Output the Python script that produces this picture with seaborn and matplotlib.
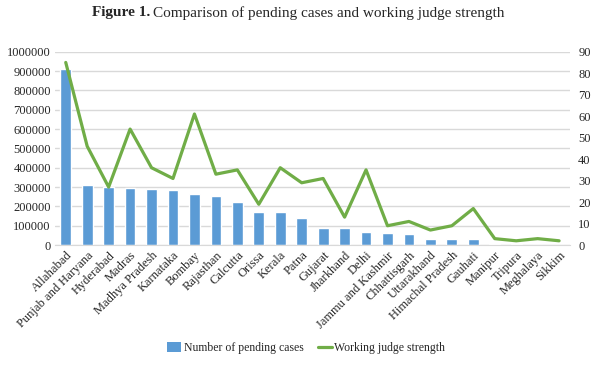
import numpy as np
import pandas as pd
import seaborn as sns
import matplotlib.pyplot as plt
from matplotlib.patches import Patch
from matplotlib.lines import Line2D
from matplotlib.ticker import StrMethodFormatter

courts = ['Allahabad', 'Punjab and Haryana', 'Hyderabad', 'Madras', 'Madhya Pradesh',
          'Karnataka', 'Bombay', 'Rajasthan', 'Calcutta', 'Orissa', 'Kerala', 'Patna',
          'Gujarat', 'Jharkhand', 'Delhi', 'Jammu and Kashmir', 'Chhattisgarh',
          'Uttarakhand', 'Himachal Pradesh', 'Gauhati', 'Manipur', 'Tripura',
          'Meghalaya', 'Sikkim']
pending = [910000, 310000, 298000, 297000, 290000, 283000, 264000, 253000, 221000,
           171000, 169000, 138000, 88000, 88000, 67000, 60000, 57000, 31000, 29000,
           29000, 4000, 4000, 1000, 500]
judges = [85, 46, 27, 54, 36, 31, 61, 33, 35, 19, 36, 29, 31, 13, 35, 9, 11, 7, 9, 17,
          3, 2, 3, 2]

df = pd.DataFrame({'court': courts, 'pending': pending, 'judges': judges})

sns.set_style('white')
plt.rcParams['font.family'] = ['Liberation Serif', 'DejaVu Serif']

bar_color = '#5B9BD5'
line_color = '#70AD47'

fig = plt.figure(figsize=(6, 3.68), dpi=100)
ax = fig.add_axes([0.0917, 0.334, 0.858, 0.5255])
sns.barplot(data=df, x='court', y='pending', color=bar_color, width=0.5,
            saturation=1, ax=ax)
ax.set_ylim(0, 1000000)
ax.set_yticks(np.arange(0, 1000001, 100000))
ax.yaxis.set_major_formatter(StrMethodFormatter('{x:.0f}'))
ax.yaxis.grid(True, color='#D9D9D9', linewidth=1)
ax.set_axisbelow(True)
ax.set_xlabel('')
ax.set_ylabel('')
ax.set_xlim(-0.5, len(courts) - 0.5)
ax.tick_params(axis='both', length=0, labelsize=9, pad=3)
plt.setp(ax.get_xticklabels(), rotation=45, ha='right', rotation_mode='anchor')
for s in ['top', 'right', 'left']:
    ax.spines[s].set_visible(False)
ax.spines['bottom'].set_color('#D9D9D9')

ax2 = ax.twinx()
sns.lineplot(data=df, x='court', y='judges', color=line_color, linewidth=2.3,
             sort=False, ax=ax2)
ax2.set_ylim(0, 90)
ax2.set_yticks(np.arange(0, 91, 10))
ax2.set_ylabel('')
ax2.set_xlabel('')
ax2.tick_params(axis='y', length=0, labelsize=9, pad=6)
for s in ax2.spines.values():
    s.set_visible(False)
ax.set_xlim(-0.5, len(courts) - 0.5)

handles = [Patch(facecolor=bar_color, edgecolor='none'),
           Line2D([], [], color=line_color, linewidth=2.3)]
fig.legend(handles, ['Number of pending cases', 'Working judge strength'],
           loc='center', bbox_to_anchor=(0.51, 0.054), ncol=2, frameon=False,
           fontsize=8.5, handlelength=1.2, handleheight=0.9, columnspacing=1.2,
           handletextpad=0.2)

# title: bold "Figure 1." followed by regular text
fig.canvas.draw()
r = fig.canvas.get_renderer()
t1 = fig.text(0.153, 0.965, 'Figure 1.', fontsize=11, fontweight='bold', va='center')
w = t1.get_window_extent(renderer=r)
fig.text((w.x1 + 3) / fig.bbox.width, 0.965,
         'Comparison of pending cases and working judge strength',
         fontsize=11, va='center')

fig.savefig('out.png', dpi=100)
